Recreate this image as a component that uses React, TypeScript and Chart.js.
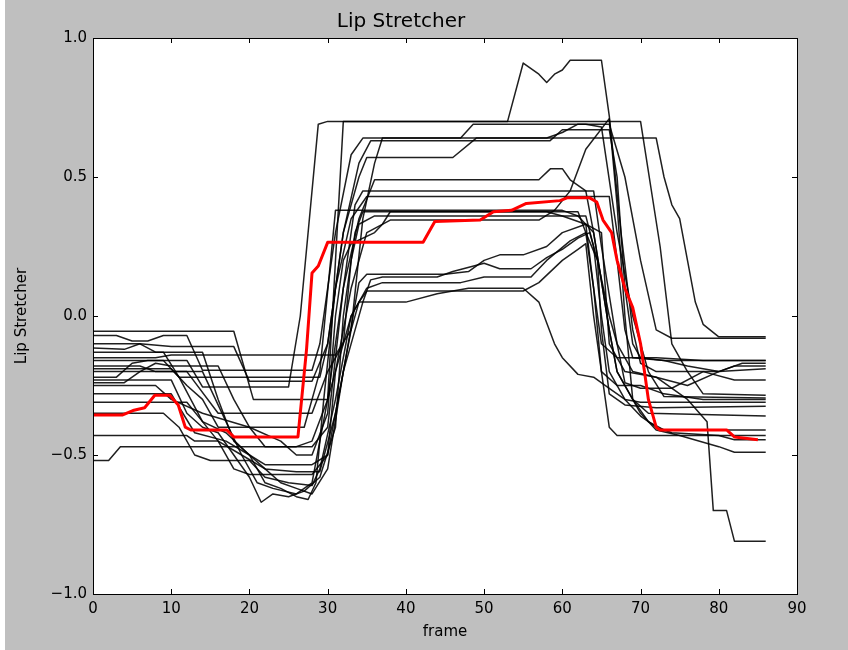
import React, { useEffect, useRef } from "react";
import { Chart, registerables } from "chart.js";

Chart.register(...registerables);

const TITLE = "Lip Stretcher";
const X_LABEL = "frame";
const Y_LABEL = "Lip Stretcher";
const X_TICKS = [0, 10, 20, 30, 40, 50, 60, 70, 80, 90];
const Y_TICKS = [-1.0, -0.5, 0.0, 0.5, 1.0];

// mean curve (red): [frame, value]
const meanSeries: number[][] = [[0,-0.356],[3.8,-0.356],[5.1,-0.34],[6.6,-0.33],[7.9,-0.285],[9.8,-0.285],[10.9,-0.32],[11.8,-0.40],[12.5,-0.41],[17.1,-0.41],[18,-0.435],[26.2,-0.435],[27.3,-0.12],[28,0.155],[28.8,0.18],[30,0.265],[42.2,0.265],[43.7,0.34],[49.5,0.345],[51.2,0.375],[53.5,0.38],[55.4,0.405],[59.7,0.415],[60.6,0.425],[63.5,0.425],[64.4,0.41],[65.2,0.345],[66.3,0.30],[67,0.2],[68,0.1],[69,0.03],[70,-0.1],[71,-0.3],[72,-0.4],[72.5,-0.41],[81,-0.41],[82,-0.435],[85,-0.445]];

// individual subjects (black): [frame, value]
const subject01: number[][] = [[0,-0.16],[12,-0.16],[14,-0.255],[25,-0.255],[26.5,0.0],[28.8,0.69],[30,0.70],[53,0.70],[55,0.91],[57,0.87],[58,0.84],[59,0.87],[60,0.885],[61,0.92],[65,0.92],[66,0.72],[67.5,0.3],[69,-0.05],[70,-0.17],[72,-0.2],[80,-0.2],[83,-0.17],[86,-0.17]];
const subject02: number[][] = [[0,-0.055],[18,-0.055],[20.5,-0.30],[30,-0.30],[31,0.2],[32,0.70],[70,0.70],[72.5,0.25],[74,-0.1],[76,-0.2],[78,-0.28],[86,-0.285]];
const subject03: number[][] = [[0,-0.07],[3,-0.07],[5,-0.09],[7,-0.09],[9,-0.07],[12,-0.07],[14,-0.195],[28,-0.195],[29,-0.1],[31,0.3],[33,0.58],[34.5,0.64],[47,0.64],[48.6,0.69],[63,0.69],[65,0.68],[67,0.3],[69,0.0],[71,-0.2],[73,-0.29],[86,-0.295]];
const subject04: number[][] = [[0,-0.115],[4,-0.12],[6,-0.10],[10,-0.11],[18,-0.11],[20,-0.235],[28,-0.235],[30,-0.1],[32,0.3],[34,0.55],[35.5,0.63],[58.4,0.63],[60,0.67],[66,0.67],[67,0.5],[68,0.1],[69,-0.1],[70,-0.15],[73,-0.16],[86,-0.16]];
const subject05: number[][] = [[0,-0.13],[9,-0.13],[11,-0.22],[29,-0.22],[30,-0.1],[32,0.3],[34,0.5],[35,0.57],[46,0.57],[49,0.64],[58,0.64],[60,0.66],[62,0.69],[66,0.69],[68,0.5],[70,0.2],[72,-0.05],[74,-0.08],[86,-0.08]];
const subject06: number[][] = [[0,-0.15],[8,-0.15],[10,-0.14],[31,-0.14],[33,-0.05],[34.5,0.35],[36,0.55],[37,0.64],[72,0.64],[73,0.5],[74,0.4],[75,0.35],[76,0.2],[77,0.05],[78,-0.03],[80,-0.075],[86,-0.075]];
const subject07: number[][] = [[0,-0.18],[6,-0.18],[8,-0.2],[14,-0.2],[17,-0.38],[19,-0.5],[21,-0.6],[23,-0.62],[26,-0.64],[28,-0.6],[30,-0.3],[32,0.1],[34,0.35],[36,0.49],[57,0.49],[58.5,0.53],[60,0.53],[61,0.49],[63,0.45],[64,0.3],[66,-0.05],[67,-0.2],[69,-0.3],[71,-0.38],[73,-0.41],[86,-0.41]];
const subject08: number[][] = [[0,-0.2],[6,-0.2],[8,-0.17],[10,-0.18],[16,-0.18],[18,-0.3],[20,-0.4],[22,-0.47],[28,-0.47],[30,-0.4],[32,0.1],[33.5,0.4],[34.5,0.45],[64,0.45],[65,0.25],[67,-0.1],[68,-0.24],[70,-0.26],[74,-0.26],[78,-0.2],[82,-0.23],[86,-0.23]];
const subject09: number[][] = [[0,-0.22],[3,-0.22],[5,-0.17],[7,-0.16],[9,-0.16],[11,-0.22],[14,-0.38],[17,-0.42],[20,-0.5],[22,-0.6],[24,-0.62],[26,-0.65],[27.5,-0.66],[28.5,-0.6],[29.5,-0.3],[31,0.1],[33,0.35],[35,0.43],[66,0.43],[67,0.2],[68,-0.05],[69,-0.15],[73,-0.16],[76,-0.18],[80,-0.2],[86,-0.19]];
const subject10: number[][] = [[0,-0.23],[10,-0.23],[12,-0.35],[14,-0.4],[16,-0.42],[18,-0.5],[20,-0.58],[21.5,-0.67],[23,-0.64],[25,-0.65],[27,-0.63],[29,-0.58],[31,-0.4],[32,0.0],[33.5,0.3],[34.5,0.375],[62,0.375],[63,0.3],[64.5,0.2],[66,0.0],[67,-0.1],[69,-0.2],[72,-0.22],[76,-0.25],[80,-0.2],[82,-0.18],[86,-0.18]];
const subject11: number[][] = [[0,-0.24],[4,-0.24],[6,-0.2],[12,-0.2],[16,-0.35],[28,-0.35],[30,-0.2],[32,-0.1],[33,0.2],[34,0.33],[36,0.36],[63,0.36],[64,0.25],[65,0.0],[66,-0.2],[68,-0.3],[70,-0.31],[86,-0.31]];
const subject12: number[][] = [[0,-0.28],[10,-0.28],[13,-0.42],[17,-0.45],[20,-0.5],[22,-0.535],[28,-0.535],[30,-0.5],[31,-0.2],[33,0.1],[35,0.3],[38,0.345],[57,0.345],[59,0.38],[61,0.45],[63,0.6],[66,0.71],[67,0.4],[68,0.0],[69,-0.3],[71,-0.35],[86,-0.36]];
const subject13: number[][] = [[0,-0.31],[12,-0.31],[14,-0.38],[16,-0.45],[18,-0.55],[20,-0.57],[28,-0.57],[30,-0.5],[32,-0.2],[34.5,0.05],[35.5,0.13],[37,0.14],[44,0.14],[46,0.16],[50,0.19],[52,0.17],[56,0.17],[58,0.21],[60,0.24],[62,0.28],[63.5,0.3],[64.5,0.2],[65,-0.05],[66,-0.28],[68,-0.32],[72,-0.33],[86,-0.325]];
const subject14: number[][] = [[0,-0.35],[9,-0.35],[11,-0.4],[13,-0.5],[15,-0.52],[20,-0.52],[22,-0.58],[25,-0.6],[28,-0.61],[29,-0.55],[31,-0.3],[33,0.0],[35,0.1],[37,0.12],[47,0.12],[50,0.14],[56,0.14],[58,0.2],[61,0.27],[63,0.3],[64,0.1],[65,-0.2],[66,-0.4],[67,-0.43],[86,-0.43]];
const subject15: number[][] = [[0,-0.43],[12,-0.43],[13,-0.45],[16,-0.45],[19,-0.5],[22,-0.55],[26,-0.56],[29,-0.56],[31,-0.35],[33,-0.05],[34,0.05],[35,0.09],[55,0.09],[57,0.12],[60,0.2],[62,0.24],[63,0.26],[64,0.0],[65,-0.2],[67,-0.25],[70,-0.25],[73,-0.28],[78,-0.3],[86,-0.30]];
const subject16: number[][] = [[0,-0.52],[2,-0.52],[3.5,-0.47],[26,-0.47],[28,-0.45],[30,-0.3],[32,-0.1],[33,0.0],[34,0.05],[40,0.05],[44,0.08],[48,0.1],[55,0.1],[57,0.05],[59,-0.1],[60,-0.15],[62,-0.21],[64,-0.22],[66,-0.26],[68,-0.3],[70,-0.36],[72,-0.4],[74,-0.42],[80,-0.43],[82,-0.445],[86,-0.445]];
const subject17: number[][] = [[0,-0.1],[6,-0.1],[8,-0.13],[14,-0.13],[16,-0.3],[18,-0.45],[20,-0.5],[22,-0.55],[24,-0.6],[26,-0.62],[28,-0.64],[30,-0.55],[32,-0.2],[34,0.12],[35,0.15],[45,0.15],[48,0.16],[50,0.2],[52,0.22],[55,0.22],[58,0.25],[60,0.3],[63,0.33],[65,0.3],[66,-0.1],[68,-0.2],[72,-0.22],[76,-0.3],[78.5,-0.38],[79.3,-0.7],[81,-0.7],[82,-0.81],[86,-0.81]];
const subject18: number[][] = [[0,-0.19],[10,-0.19],[12,-0.25],[14,-0.3],[16,-0.4],[27,-0.4],[29,-0.2],[31,0.38],[32,0.38],[60,0.38],[62,0.36],[64,0.3],[66,-0.05],[67,-0.2],[70,-0.35],[72,-0.41],[75,-0.43],[80,-0.47],[82,-0.49],[86,-0.49]];
const subject19: number[][] = [[0,-0.25],[8,-0.25],[10,-0.3],[14,-0.35],[20,-0.4],[24,-0.45],[26,-0.5],[28,-0.5],[30,-0.35],[31,0.0],[32,0.2],[33,0.26],[36,0.3],[37,0.33],[38,0.375],[58,0.375],[60,0.36],[63,0.33],[64,0.1],[65,-0.1],[67,-0.15],[72,-0.15],[78,-0.16],[86,-0.16]];

const subjects = [subject01, subject02, subject03, subject04, subject05, subject06, subject07, subject08, subject09, subject10, subject11, subject12, subject13, subject14, subject15, subject16, subject17, subject18, subject19];

const toXY = (s: number[][]) => s.map(([x, y]) => ({ x, y }));

const frameTicksPlugin = {
  id: "frameTicks",
  beforeDatasetsDraw(chart: any) {
    const { ctx, chartArea: a } = chart;
    ctx.save();
    ctx.fillStyle = "#ffffff";
    ctx.fillRect(a.left, a.top, a.right - a.left, a.bottom - a.top);
    ctx.restore();
  },
  afterDatasetsDraw(chart: any) {
    const { ctx, chartArea: a, scales } = chart;
    const len = 5;
    ctx.save();
    ctx.strokeStyle = "#000000";
    ctx.lineWidth = 1;
    ctx.beginPath();
    X_TICKS.forEach((t) => {
      const x = Math.round(scales.x.getPixelForValue(t)) + 0.5;
      ctx.moveTo(x, a.bottom);
      ctx.lineTo(x, a.bottom - len);
      ctx.moveTo(x, a.top);
      ctx.lineTo(x, a.top + len);
    });
    Y_TICKS.forEach((t) => {
      const y = Math.round(scales.y.getPixelForValue(t)) + 0.5;
      ctx.moveTo(a.left, y);
      ctx.lineTo(a.left + len, y);
      ctx.moveTo(a.right, y);
      ctx.lineTo(a.right - len, y);
    });
    ctx.stroke();
    ctx.strokeRect(Math.round(a.left) + 0.5, Math.round(a.top) + 0.5, Math.round(a.right - a.left), Math.round(a.bottom - a.top));
    ctx.restore();
  },
};

export default function App() {
  const ref = useRef<HTMLCanvasElement | null>(null);
  useEffect(() => {
    if (!ref.current) return;
    const font = "'DejaVu Sans', sans-serif";
    const datasets: any[] = [
      {
        label: "mean",
        data: toXY(meanSeries),
        borderColor: "#ff0000",
        borderWidth: 3,
        pointRadius: 0,
        tension: 0,
        borderJoinStyle: "round",
        order: 0,
      },
      ...subjects.map((s, i) => ({
        label: "s" + (i + 1),
        data: toXY(s),
        borderColor: "rgba(0,0,0,0.88)",
        borderWidth: 1.5,
        pointRadius: 0,
        tension: 0,
        borderJoinStyle: "round",
        order: 1,
      })),
    ];
    const chart = new Chart(ref.current, {
      type: "line",
      data: { datasets },
      plugins: [frameTicksPlugin],
      options: {
        animation: false,
        responsive: false,
        devicePixelRatio: 1,
        layout: { padding: { left: 0, right: 51, top: 0, bottom: 0 } },
        plugins: {
          legend: { display: false },
          tooltip: { enabled: false },
          title: {
            display: true,
            text: TITLE,
            color: "#000",
            font: { family: font, size: 20, weight: "normal", lineHeight: 1.2 },
            padding: { top: 10, bottom: 4 },
          },
        },
        scales: {
          x: {
            type: "linear",
            min: 0,
            max: 90,
            grid: { display: false, drawTicks: false },
            border: { display: false },
            afterBuildTicks: (s: any) => { s.ticks = X_TICKS.map((v) => ({ value: v })); },
            afterFit: (s: any) => { s.height = 56; },
            ticks: { color: "#000", font: { family: font, size: 15 }, padding: 6, maxRotation: 0, autoSkip: false },
            title: { display: true, text: X_LABEL, color: "#000", font: { family: font, size: 15, lineHeight: 1.2 }, padding: { top: 0, bottom: 9 } },
          },
          y: {
            type: "linear",
            min: -1,
            max: 1,
            grid: { display: false, drawTicks: false },
            border: { display: false },
            afterBuildTicks: (s: any) => { s.ticks = Y_TICKS.map((v) => ({ value: v })); },
            afterFit: (s: any) => { s.width = 88; },
            ticks: {
              color: "#000",
              font: { family: font, size: 15 },
              padding: 6,
              autoSkip: false,
              callback: (v: any) => { const n = Number(v); return (n < 0 ? "\u2212" : "") + Math.abs(n).toFixed(1); },
            },
            title: { display: true, text: Y_LABEL, color: "#000", font: { family: font, size: 15, lineHeight: 1.2 }, padding: { top: 8, bottom: 0 } },
          },
        },
      } as any,
    });
    return () => chart.destroy();
  }, []);
  return (
    <div style={{ position: "absolute", left: 0, top: 0, width: 848, height: 650, background: "#ffffff" }}>
      <div style={{ position: "absolute", left: 5, top: 0, width: 843, height: 650, background: "#bfbfbf" }}>
        <canvas ref={ref} width={843} height={650} style={{ display: "block", width: 843, height: 650 }} />
      </div>
    </div>
  );
}
